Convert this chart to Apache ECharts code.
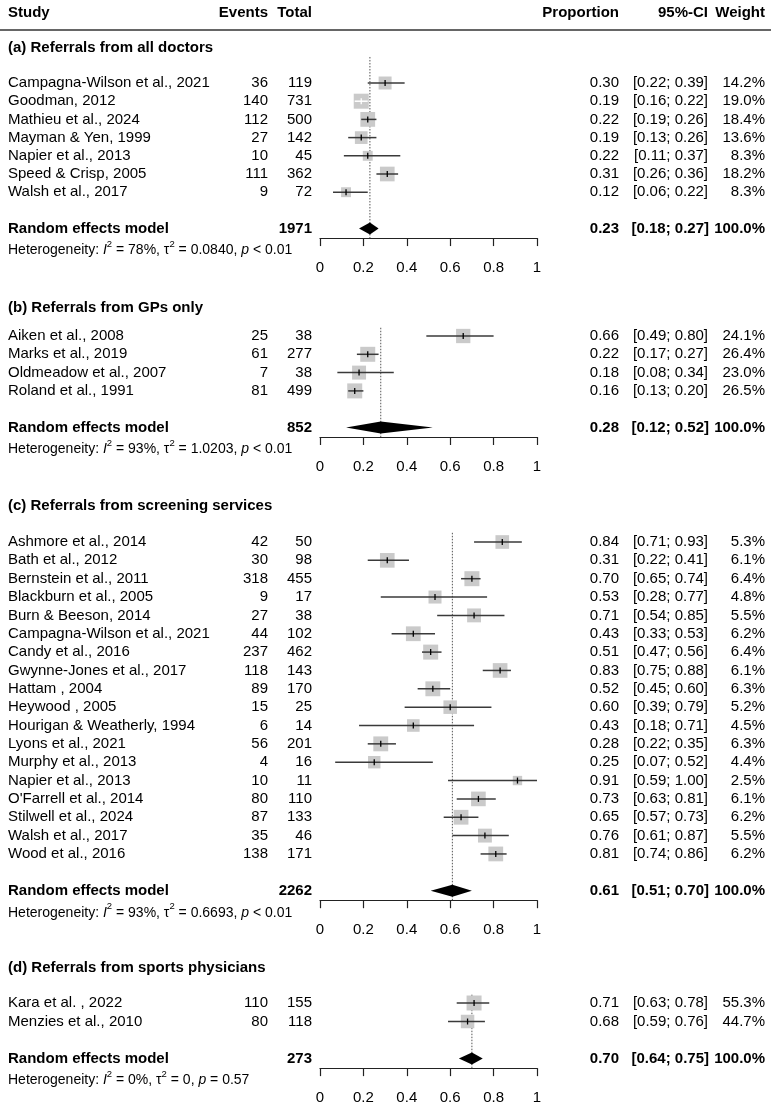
<!DOCTYPE html>
<html><head><meta charset="utf-8">
<script src="https://cdn.jsdelivr.net/npm/echarts@6/dist/echarts.min.js"></script>
<style>html,body{margin:0;padding:0;background:#fff}#chart{width:773px;height:1109px}</style>
</head><body><div id="chart"></div>
<script>
// ---------- DATA ----------
const columnHeaders = ['Study', 'Events', 'Total', 'Proportion', '95%-CI', 'Weight'];
const sectionTitles = [
  '(a) Referrals from all doctors',
  '(b) Referrals from GPs only',
  '(c) Referrals from screening services',
  '(d) Referrals from sports physicians'
];

const studiesA = ['Campagna-Wilson et al., 2021', 'Goodman, 2012', 'Mathieu et al., 2024', 'Mayman & Yen, 1999', 'Napier et al., 2013', 'Speed & Crisp, 2005', 'Walsh et al., 2017'];
const eventsA = [36, 140, 112, 27, 10, 111, 9];
const totalsA = [119, 731, 500, 142, 45, 362, 72];
const propA   = [0.30, 0.19, 0.22, 0.19, 0.22, 0.31, 0.12];
const lowerA  = [0.22, 0.16, 0.19, 0.13, 0.11, 0.26, 0.06];
const upperA  = [0.39, 0.22, 0.26, 0.26, 0.37, 0.36, 0.22];
const weightA = [14.2, 19.0, 18.4, 13.6, 8.3, 18.2, 8.3];

const studiesB = ['Aiken et al., 2008', 'Marks et al., 2019', 'Oldmeadow et al., 2007', 'Roland et al., 1991'];
const eventsB = [25, 61, 7, 81];
const totalsB = [38, 277, 38, 499];
const propB   = [0.66, 0.22, 0.18, 0.16];
const lowerB  = [0.49, 0.17, 0.08, 0.13];
const upperB  = [0.80, 0.27, 0.34, 0.20];
const weightB = [24.1, 26.4, 23.0, 26.5];

const studiesC = ['Ashmore et al., 2014', 'Bath et al., 2012', 'Bernstein et al., 2011', 'Blackburn et al., 2005', 'Burn & Beeson, 2014', 'Campagna-Wilson et al., 2021', 'Candy et al., 2016', 'Gwynne-Jones et al., 2017', 'Hattam , 2004', 'Heywood , 2005', 'Hourigan & Weatherly, 1994', 'Lyons et al., 2021', 'Murphy et al., 2013', 'Napier et al., 2013', "O'Farrell et al., 2014", 'Stilwell et al., 2024', 'Walsh et al., 2017', 'Wood et al., 2016'];
const eventsC = [42, 30, 318, 9, 27, 44, 237, 118, 89, 15, 6, 56, 4, 10, 80, 87, 35, 138];
const totalsC = [50, 98, 455, 17, 38, 102, 462, 143, 170, 25, 14, 201, 16, 11, 110, 133, 46, 171];
const propC   = [0.84, 0.31, 0.70, 0.53, 0.71, 0.43, 0.51, 0.83, 0.52, 0.60, 0.43, 0.28, 0.25, 0.91, 0.73, 0.65, 0.76, 0.81];
const lowerC  = [0.71, 0.22, 0.65, 0.28, 0.54, 0.33, 0.47, 0.75, 0.45, 0.39, 0.18, 0.22, 0.07, 0.59, 0.63, 0.57, 0.61, 0.74];
const upperC  = [0.93, 0.41, 0.74, 0.77, 0.85, 0.53, 0.56, 0.88, 0.60, 0.79, 0.71, 0.35, 0.52, 1.00, 0.81, 0.73, 0.87, 0.86];
const weightC = [5.3, 6.1, 6.4, 4.8, 5.5, 6.2, 6.4, 6.1, 6.3, 5.2, 4.5, 6.3, 4.4, 2.5, 6.1, 6.2, 5.5, 6.2];

const studiesD = ['Kara et al. , 2022', 'Menzies et al., 2010'];
const eventsD = [110, 80];
const totalsD = [155, 118];
const propD   = [0.71, 0.68];
const lowerD  = [0.63, 0.59];
const upperD  = [0.78, 0.76];
const weightD = [55.3, 44.7];

const pooledLabel = 'Random effects model';
const pooledTotals = [1971, 852, 2262, 273];
const pooledProp   = [0.23, 0.28, 0.61, 0.70];
const pooledLower  = [0.18, 0.12, 0.51, 0.64];
const pooledUpper  = [0.27, 0.52, 0.70, 0.75];
const pooledWeight = ['100.0%', '100.0%', '100.0%', '100.0%'];
const hetI2   = ['78%', '93%', '93%', '0%'];
const hetTau2 = ['0.0840', '1.0203', '0.6693', '0'];
const hetP    = ['< 0.01', '< 0.01', '< 0.01', '= 0.57'];

const xTickValues = [0, 0.2, 0.4, 0.6, 0.8, 1];

// ---------- LAYOUT ----------
const FONT = "'Liberation Sans', Arial, Helvetica, sans-serif";
const firstRowY = [83, 336, 542, 1003];
const rowH = [18.2, 18.3, 18.35, 18.5];
const titleY = [48, 308, 506, 968];
const refTop = [-1.43, -0.45, -0.5, -0.45];
const PLOT_LEFT = 320, PLOT_W = 217;
const COL = {name: 8, events: 268, total: 312, prop: 619, ci: 708, weight: 765};

const sections = [
  {studies: studiesA, events: eventsA, totals: totalsA, prop: propA, lower: lowerA, upper: upperA, weight: weightA},
  {studies: studiesB, events: eventsB, totals: totalsB, prop: propB, lower: lowerB, upper: upperB, weight: weightB},
  {studies: studiesC, events: eventsC, totals: totalsC, prop: propC, lower: lowerC, upper: upperC, weight: weightC},
  {studies: studiesD, events: eventsD, totals: totalsD, prop: propD, lower: lowerD, upper: upperD, weight: weightD}
];

function txt(text, x, y, align, bold) {
  return {type: 'text', style: {text: String(text), x: x, y: y, fill: '#000',
    font: (bold ? 'bold ' : '') + '15px ' + FONT,
    textAlign: align, align: align, textVerticalAlign: 'middle', verticalAlign: 'middle'}};
}
const fmt2 = v => v.toFixed(2);

const grids = [], xAxes = [], yAxes = [], series = [];
sections.forEach((S, k) => {
  const n = S.studies.length;
  const h = rowH[k];
  grids.push({left: PLOT_LEFT, width: PLOT_W, top: firstRowY[k] - 0.5 * h, height: (n + 2.02) * h, containLabel: false});
  xAxes.push({gridIndex: k, type: 'value', min: 0, max: 1, interval: 0.2, position: 'bottom',
    axisLine: {show: true, onZero: false, lineStyle: {color: '#222', width: 1.2}},
    axisTick: {show: true, inside: false, length: 8, lineStyle: {color: '#222', width: 1.2}},
    axisLabel: {show: true, margin: 22, fontSize: 15, fontFamily: FONT, color: '#000',
      showMinLabel: true, showMaxLabel: true,
      formatter: v => { const t = xTickValues.find(x => Math.abs(x - v) < 1e-9); return t === undefined ? '' : String(t); }},
    splitLine: {show: false}});
  yAxes.push({gridIndex: k, type: 'value', inverse: true, min: -0.5, max: n + 1.52, show: false,
    axisLine: {show: false}, splitLine: {show: false}});

  // pooled row + reference line + diamond
  series.push({
    type: 'custom', xAxisIndex: k, yAxisIndex: k, z: 1, silent: true,
    data: [[pooledProp[k], n + 1, pooledLower[k], pooledUpper[k]]],
    renderItem: (params, api) => {
      const yv = api.value(1);
      const c = api.coord([api.value(0), yv]);
      const xl = api.coord([api.value(2), yv])[0];
      const xh = api.coord([api.value(3), yv])[0];
      const yTop = api.coord([0, refTop[k]])[1];
      const yBot = api.coord([0, n + 1.52])[1];
      const het = '{n|Heterogeneity: }{i|I}{s|2}{n| = ' + hetI2[k] + ', τ}{s|2}{n| = ' + hetTau2[k] + ', }{i|p}{n| ' + hetP[k] + '}';
      return {type: 'group', children: [
        {type: 'line', shape: {x1: c[0], y1: yTop, x2: c[0], y2: yBot},
          style: {stroke: '#555', lineWidth: 1, lineDash: [1.5, 1.5]}},
        {type: 'polygon', shape: {points: [[xl, c[1]], [c[0], c[1] - 6], [xh, c[1]], [c[0], c[1] + 6]]},
          style: {fill: '#000'}},
        txt(pooledLabel, COL.name, c[1], 'left', true),
        txt(pooledTotals[k], COL.total, c[1], 'right', true),
        txt(fmt2(pooledProp[k]), COL.prop, c[1], 'right', true),
        txt('[' + fmt2(pooledLower[k]) + '; ' + fmt2(pooledUpper[k]) + ']', COL.ci + 1, c[1], 'right', true),
        txt(pooledWeight[k], COL.weight, c[1], 'right', true),
        {type: 'text', style: {text: het, x: COL.name, y: c[1] + 20, fill: '#000',
          textAlign: 'left', align: 'left', textVerticalAlign: 'middle', verticalAlign: 'middle',
          rich: {
            n: {fontSize: 14, fontFamily: FONT, lineHeight: 18, verticalAlign: 'bottom'},
            i: {fontSize: 14, fontFamily: FONT, fontStyle: 'italic', lineHeight: 18, verticalAlign: 'bottom'},
            s: {fontSize: 9.5, fontFamily: FONT, lineHeight: 10, verticalAlign: 'top'}
          }}}
      ]};
    }
  });

  // study rows
  const wmax = Math.max.apply(null, S.weight);
  series.push({
    type: 'custom', xAxisIndex: k, yAxisIndex: k, z: 2, silent: true,
    data: S.prop.map((p, i) => [p, i, S.lower[i], S.upper[i], S.weight[i]]),
    renderItem: (params, api) => {
      const i = params.dataIndex;
      const yv = api.value(1);
      const c = api.coord([api.value(0), yv]);
      const xl = api.coord([api.value(2), yv])[0];
      const xh = api.coord([api.value(3), yv])[0];
      const s = 15 * Math.sqrt(api.value(4) / wmax);
      const inside = (xh - xl) < s;
      return {type: 'group', children: [
        {type: 'rect', shape: {x: c[0] - s / 2, y: c[1] - s / 2, width: s, height: s}, style: {fill: '#cacaca'}},
        {type: 'line', shape: {x1: xl, y1: c[1], x2: xh, y2: c[1]},
          style: {stroke: inside ? '#fff' : '#3a3a3a', lineWidth: 1.5}},
        {type: 'line', shape: {x1: c[0], y1: c[1] - 3, x2: c[0], y2: c[1] + 3},
          style: {stroke: inside ? '#fff' : '#000', lineWidth: 1.3}},
        txt(S.studies[i], COL.name, c[1], 'left', false),
        txt(S.events[i], COL.events, c[1], 'right', false),
        txt(S.totals[i], COL.total, c[1], 'right', false),
        txt(fmt2(S.prop[i]), COL.prop, c[1], 'right', false),
        txt('[' + fmt2(S.lower[i]) + '; ' + fmt2(S.upper[i]) + ']', COL.ci, c[1], 'right', false),
        txt(S.weight[i].toFixed(1) + '%', COL.weight, c[1], 'right', false)
      ]};
    }
  });
});

// static header / titles
const headerX = [COL.name, COL.events, COL.total, COL.prop, COL.ci, COL.weight];
const headerAlign = ['left', 'right', 'right', 'right', 'right', 'right'];
const graphics = columnHeaders.map((t, j) => ({
  type: 'text', x: headerX[j], y: 13,
  style: {text: t, font: 'bold 15px ' + FONT, fill: '#000', textAlign: headerAlign[j], align: headerAlign[j],
    textVerticalAlign: 'middle', verticalAlign: 'middle'}
}));
graphics.push({type: 'line', shape: {x1: 0, y1: 30, x2: 771, y2: 30}, style: {stroke: '#333', lineWidth: 1.3}});
sectionTitles.forEach((t, k) => graphics.push({
  type: 'text', x: COL.name, y: titleY[k],
  style: {text: t, font: 'bold 15px ' + FONT, fill: '#000', textAlign: 'left', align: 'left',
    textVerticalAlign: 'middle', verticalAlign: 'middle'}
}));

const chart = echarts.init(document.getElementById('chart'), null, {renderer: 'canvas'});
chart.setOption({
  animation: false,
  backgroundColor: '#fff',
  grid: grids, xAxis: xAxes, yAxis: yAxes, series: series, graphic: graphics
});
</script></body></html>
